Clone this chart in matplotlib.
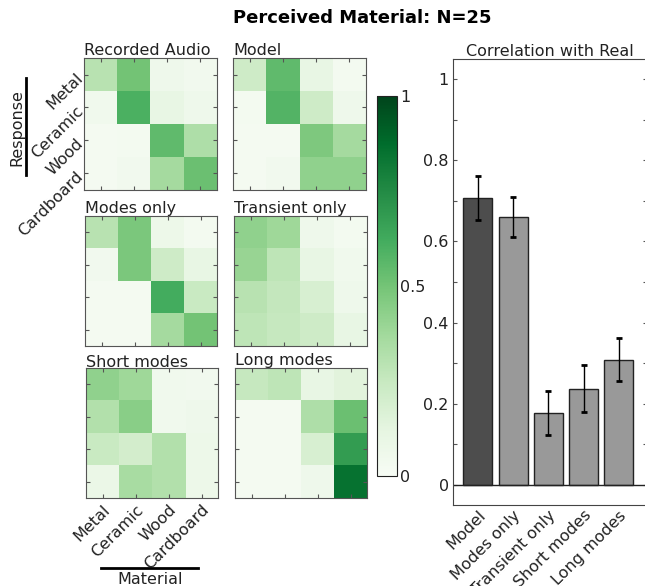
import matplotlib.pyplot as plt
import numpy as np
from matplotlib.lines import Line2D

materials = ['Metal', 'Ceramic', 'Wood', 'Cardboard']

# confusion matrices: rows = response, columns = material
recorded_audio = [[0.30, 0.50, 0.06, 0.04],
                  [0.05, 0.60, 0.10, 0.06],
                  [0.02, 0.03, 0.55, 0.33],
                  [0.02, 0.04, 0.36, 0.52]]
model = [[0.22, 0.55, 0.10, 0.03],
         [0.03, 0.58, 0.22, 0.06],
         [0.02, 0.02, 0.47, 0.36],
         [0.02, 0.04, 0.42, 0.42]]
modes_only = [[0.30, 0.48, 0.07, 0.03],
              [0.04, 0.48, 0.22, 0.10],
              [0.02, 0.02, 0.62, 0.24],
              [0.02, 0.02, 0.36, 0.50]]
transient_only = [[0.42, 0.38, 0.06, 0.03],
                  [0.40, 0.28, 0.10, 0.05],
                  [0.30, 0.26, 0.18, 0.06],
                  [0.28, 0.25, 0.22, 0.10]]
short_modes = [[0.42, 0.38, 0.05, 0.04],
               [0.32, 0.44, 0.05, 0.06],
               [0.24, 0.20, 0.32, 0.07],
               [0.08, 0.35, 0.32, 0.07]]
long_modes = [[0.25, 0.28, 0.10, 0.14],
              [0.02, 0.02, 0.33, 0.52],
              [0.02, 0.02, 0.18, 0.68],
              [0.02, 0.02, 0.06, 0.85]]

conditions = ['Model', 'Modes only', 'Transient only', 'Short modes', 'Long modes']
corr = [0.707, 0.660, 0.177, 0.237, 0.308]
corr_err = [0.055, 0.050, 0.055, 0.058, 0.053]

plt.rcParams['font.size'] = 11.5
plt.rcParams['text.color'] = '#222222'
plt.rcParams['xtick.color'] = '#555555'
plt.rcParams['ytick.color'] = '#555555'
plt.rcParams['xtick.labelcolor'] = '#222222'
plt.rcParams['ytick.labelcolor'] = '#222222'

W, H = 645, 586
fig = plt.figure(figsize=(W / 100, H / 100), dpi=100)


def px_axes(x0, y0, x1, y1):
    return fig.add_axes([x0 / W, 1 - y1 / H, (x1 - x0) / W, (y1 - y0) / H])


panels = [('Recorded Audio', recorded_audio, (84, 58, 217, 190)),
          ('Model', model, (233, 58, 366, 190)),
          ('Modes only', modes_only, (85, 216, 217, 346)),
          ('Transient only', transient_only, (234, 216, 367, 346)),
          ('Short modes', short_modes, (86, 368, 218, 498)),
          ('Long modes', long_modes, (235, 368, 367, 498))]

im = None
for i, (name, mat, box) in enumerate(panels):
    ax = px_axes(*box)
    im = ax.imshow(np.array(mat), cmap='Greens', vmin=0, vmax=1,
                   aspect='auto', interpolation='nearest')
    ax.set_title(name, loc='left', pad=1, fontsize=11.5)
    ax.set_xticks(range(4))
    ax.set_yticks(range(4))
    ax.tick_params(direction='in', length=3, width=0.8,
                   top=True, right=True, labelbottom=False, labelleft=False)
    for s in ax.spines.values():
        s.set_color('#555555')
    if i == 0:
        ax.set_yticklabels(materials, rotation=45, ha='right',
                           rotation_mode='anchor')
        ax.tick_params(labelleft=True, pad=3)
    if i == 4:
        ax.set_xticklabels(materials, rotation=45, ha='right',
                           rotation_mode='anchor')
        ax.tick_params(labelbottom=True, pad=3)

# shared colour scale
cax = px_axes(377, 96, 397, 476)
cb = fig.colorbar(im, cax=cax, ticks=[0, 0.5, 1])
cb.ax.set_yticklabels(['0', '0.5', '1'])
cb.ax.tick_params(length=0, pad=2)
cb.outline.set_edgecolor('#222222')

# axis group labels with bars
fig.add_artist(Line2D([26 / W, 26 / W], [1 - 78 / H, 1 - 175 / H],
                      color='black', lw=2))
fig.text(16.5 / W, 1 - 128 / H, 'Response', rotation=90,
         ha='center', va='center', fontsize=11.5)
fig.add_artist(Line2D([101 / W, 198 / W], [1 - 568 / H, 1 - 568 / H],
                      color='black', lw=2))
fig.text(150 / W, 1 - 579 / H, 'Material', ha='center', va='center',
         fontsize=11.5)

# correlation bars
bax = px_axes(453, 59, 646.5, 505)
x = np.arange(len(conditions))
colors = ['#4d4d4d'] + ['#999999'] * (len(conditions) - 1)
bax.bar(x, corr, width=0.82, color=colors, edgecolor='#222222', linewidth=1)
bax.errorbar(x, corr, yerr=corr_err, fmt='none', ecolor='black',
             elinewidth=1, capsize=2, capthick=2)
bax.axhline(0, color='#222222', lw=1)
bax.set_xlim(-0.7, 4.78)
bax.set_ylim(-0.05, 1.05)
bax.set_yticks(np.arange(0, 1.01, 0.1))
bax.set_yticklabels(['0', '', '0.2', '', '0.4', '', '0.6', '', '0.8', '', '1'])
bax.tick_params(axis='y', direction='in', length=3, right=True, pad=3)
bax.set_xticks(x)
bax.set_xticklabels(conditions, rotation=45, ha='right', rotation_mode='anchor')
bax.tick_params(axis='x', length=0, pad=2)
for s in bax.spines.values():
    s.set_color('#444444')
bax.set_title('Correlation with Real', pad=2, fontsize=11.5)

fig.text(362 / W, 1 - 18 / H, 'Perceived Material: N=25', ha='center',
         va='center', fontsize=13, fontweight='bold', color='black')

fig.savefig('out.png', dpi=100)
